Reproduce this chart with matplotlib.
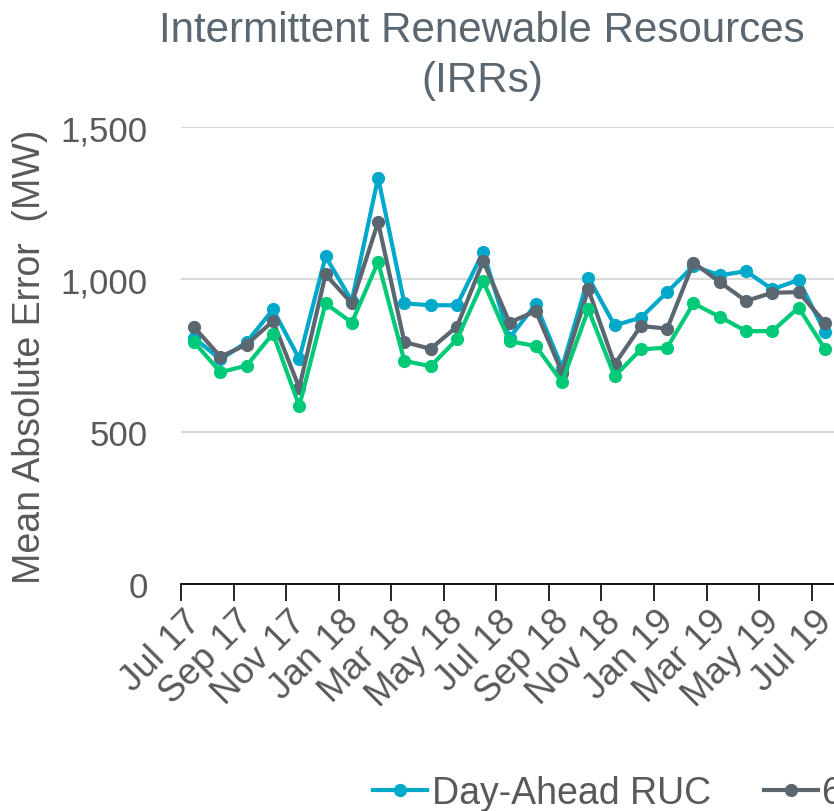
import matplotlib
matplotlib.use('Agg')
import matplotlib.pyplot as plt
from matplotlib.ticker import FuncFormatter
from matplotlib.transforms import ScaledTranslation

months = ['Jul 17', 'Aug 17', 'Sep 17', 'Oct 17', 'Nov 17', 'Dec 17',
          'Jan 18', 'Feb 18', 'Mar 18', 'Apr 18', 'May 18', 'Jun 18',
          'Jul 18', 'Aug 18', 'Sep 18', 'Oct 18', 'Nov 18', 'Dec 18',
          'Jan 19', 'Feb 19', 'Mar 19', 'Apr 19', 'May 19', 'Jun 19', 'Jul 19']

day_ahead = [808, 737, 794, 901, 739, 1075, 929, 1334, 921, 915, 915, 1090, 808,
             918, 710, 1006, 849, 874, 958, 1044, 1013, 1027, 967, 998, 827]
six_hour = [843, 746, 786, 863, 644, 1016, 921, 1188, 794, 772, 845, 1060, 858,
            896, 694, 967, 721, 847, 838, 1055, 991, 929, 956, 958, 858]
hour_ahead = [794, 695, 717, 822, 584, 921, 858, 1057, 732, 715, 803, 994, 797,
              781, 663, 901, 682, 770, 776, 921, 877, 830, 830, 907, 772]

series = [('Day-Ahead RUC', day_ahead, '#00A9C9'),
          ('6-Hour Ahead RUC', six_hour, '#5B6770'),
          ('Hour-Ahead RUC', hour_ahead, '#00C978')]

plt.rcParams['font.family'] = ['Liberation Sans', 'DejaVu Sans']
text_color = '#595959'

fig = plt.figure(figsize=(8.34, 8.12), dpi=100)
ax = fig.add_axes([181 / 834, 1 - 585 / 812, 657 / 834, 457 / 812])

x = list(range(len(months)))
for label, values, color in series:
    ax.plot(x, values, color=color, linewidth=3, marker='o', markersize=8.5,
            label=label, clip_on=False, zorder=3)

ax.set_xlim(-0.5, len(months) - 0.5)
ax.set_ylim(0, 1500)
ax.set_yticks([0, 500, 1000, 1500])
ax.yaxis.set_major_formatter(FuncFormatter(lambda v, p: '{:,.0f}'.format(v)))
ax.grid(axis='y', color='#D9D9D9', linewidth=1.5)
ax.set_axisbelow(True)

for side in ['top', 'right', 'left']:
    ax.spines[side].set_visible(False)
ax.spines['bottom'].set_color('black')
ax.spines['bottom'].set_linewidth(1.3)

# tick marks between categories, labels on every second month
ax.set_xticks([i - 0.5 for i in range(0, len(months), 2)])
ax.set_xticklabels([])
ax.set_xticks(x[::2], minor=True)
ax.set_xticklabels(months[::2], minor=True, rotation=45, ha='right',
                   rotation_mode='anchor', fontsize=26.5, color=text_color)
ax.tick_params(axis='x', which='major', length=12, width=1.2, color='black', direction='out')
ax.tick_params(axis='x', which='minor', length=0, pad=14)
ax.tick_params(axis='y', length=0, pad=24, labelsize=25, labelcolor=text_color)

shift = ScaledTranslation(-11 / 100, 0, fig.dpi_scale_trans)
for lbl in ax.get_xticklabels(minor=True):
    lbl.set_transform(lbl.get_transform() + shift)

ax.set_ylabel('Mean Absolute Error  (MW)', fontsize=27, color=text_color)
ax.yaxis.set_label_coords(-133 / 657, 0.5)

fig.text(482 / 834, 1 - 56 / 812, 'Intermittent Renewable Resources\n(IRRs)',
         ha='center', va='center', fontsize=30.3, color='#5B6770', linespacing=1.32)

fig.legend(loc='center left', bbox_to_anchor=(373 / 834, 1 - 794 / 812), ncol=3,
           frameon=False, fontsize=27, handlelength=1.45, handletextpad=0.12,
           columnspacing=1.4, labelcolor=text_color, borderaxespad=0, borderpad=0)

fig.savefig('out.png', dpi=100)
